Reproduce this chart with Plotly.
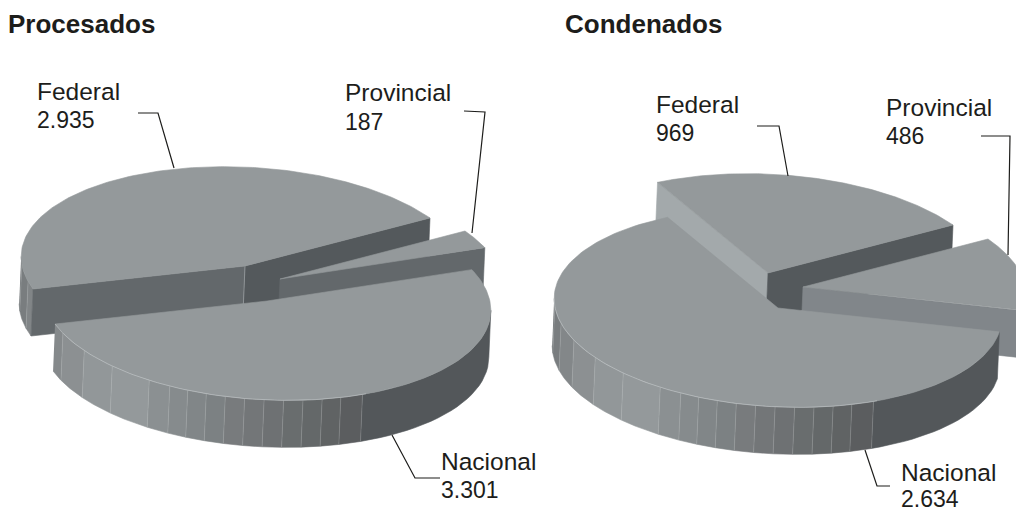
import numpy as np
import plotly.graph_objects as go

# ---- data ----
slices = ["Federal", "Provincial", "Nacional"]
procesados = [2935, 187, 3301]
condenados = [969, 486, 2634]
titles = ["Procesados", "Condenados"]

# ---- projection of the unit disc onto the page (tilted pie) ----
A = np.array([185.0, -48.0])
B = np.array([-126.0, -87.0])
DEPTH = np.array([-2.0, 47.0])

TOP = "#94999b"
INK = "#1d1d1b"
FONT = "Liberation Sans, Arial, sans-serif"

# rim shading: facet edges (deg) and brightness stops
RIM_BREAKS = [150, 160, 170, 181, 192, 204, 210, 215, 220, 225, 230, 235, 240,
              245, 250, 255, 261]
SHADE_ANG = [145, 160, 181, 197, 215, 235, 261]
SHADE_VAL = [0.45, 0.52, 0.59, 0.61, 0.54, 0.46, 0.36]
DARK = "#53575a"
VIS_LO, VIS_HI = 145.7, 325.7

fig = go.Figure()


def P(c, deg):
    t = np.radians(np.asarray(deg, dtype=float))
    return (c[0] + A[0] * np.cos(t) + B[0] * np.sin(t),
            c[1] + A[1] * np.cos(t) + B[1] * np.sin(t))


def poly(xs, ys, fill, line=None):
    fig.add_trace(go.Scatter(
        x=list(xs), y=list(ys), mode="lines", fill="toself", fillcolor=fill,
        line=dict(color=line or fill, width=0.6), hoverinfo="skip", showlegend=False))


def stroke(xs, ys, color, width):
    fig.add_trace(go.Scatter(
        x=list(xs), y=list(ys), mode="lines", line=dict(color=color, width=width),
        hoverinfo="skip", showlegend=False))


def shade(deg):
    if deg >= 261:
        return DARK
    v = np.interp(deg, SHADE_ANG, SHADE_VAL)
    return f"rgb({int(v*245)},{int(v*253)},{int(v*257)})"


def rim(c, a, b):
    lo, hi = max(a, VIS_LO), min(b, VIS_HI)
    if hi <= lo:
        return
    edges = [lo] + [e for e in RIM_BREAKS if lo < e < hi] + [hi]
    for e0, e1 in zip(edges[:-1], edges[1:]):
        th = np.linspace(e0, e1, 24)
        x, y = P(c, th)
        poly(np.r_[x, x[::-1] + DEPTH[0]], np.r_[y, y[::-1] + DEPTH[1]], shade((e0 + e1) / 2))
    for e in edges[1:-1]:
        x, y = P(c, e)
        stroke([x, x + DEPTH[0]], [y, y + DEPTH[1]], "rgba(200,205,207,0.3)", 0.7)


def face(c, deg, color):
    x, y = P(c, deg)
    poly([c[0], x, x + DEPTH[0], c[0] + DEPTH[0], c[0]],
         [c[1], y, y + DEPTH[1], c[1] + DEPTH[1], c[1]], color)


def top(c, a, b):
    th = np.linspace(a, b, 160)
    x, y = P(c, th)
    poly(np.r_[c[0], x, c[0]], np.r_[c[1], y, c[1]], TOP)


def arc_light(c, a, b):
    th = np.linspace(max(a, VIS_LO), min(b, 262), 80)
    x, y = P(c, th)
    stroke(x, y, "rgba(215,220,222,0.6)", 0.7)


def sweep(values):
    total = sum(values)
    return [v / total * 360 for v in values]


# ---- left pie ----
f, p, n = sweep(procesados)
cF, cP, cN = (245, 266), (280, 279), (267, 301)
rim(cF, 0, f)
face(cF, 0, "#54595c")
face(cF, f, "#63686b")
stroke([cF[0], cF[0] + DEPTH[0]], [cF[1], cF[1] + DEPTH[1]], "rgba(200,205,207,0.6)", 0.7)
top(cF, 0, f)
face(cP, -p, "#63686b")
top(cP, -p, 0)
rim(cN, f, f + n)
top(cN, f, f + n)
arc_light(cN, f, f + n)

# ---- right pie ----
f, p, n = sweep(condenados)
cF, cP, cN = (768, 273), (803, 287), (778, 308)
face(cF, f, "#a3a9ab")
face(cF, 0, "#54595c")
top(cF, 0, f)
face(cP, -p, "#81868a")
rim(cP, 360 - p, 360)
top(cP, -p, 0)
rim(cN, f, f + n)
top(cN, f, f + n)
arc_light(cN, f, f + n)

# ---- leader lines ----
leaders = [
    ([138, 158, 174], [113, 113, 168]),
    ([464, 485, 472], [111, 112, 233]),
    ([392, 415, 440], [435, 478, 478]),
    ([757, 779, 788], [126, 126, 176]),
    ([981, 1010, 1008], [136, 136, 255]),
    ([865, 877, 890], [450, 486, 486]),
]
for lx, ly in leaders:
    stroke(lx, ly, INK, 1.2)


def num(v):
    return f"{v:,}".replace(",", ".")


def label(x, y, text, size=24.5, bold=False):
    fig.add_annotation(x=x, y=y, text=f"<b>{text}</b>" if bold else text, showarrow=False,
                       xanchor="left", yanchor="middle", xref="x", yref="y",
                       xshift=-2, font=dict(family=FONT, size=size, color=INK))


label(8, 24, titles[0], 26, True)
label(565, 24, titles[1], 26, True)

pos_l = [(37, 91, 120), (345, 92, 122), (441, 461, 490)]
pos_r = [(656, 104, 133), (886, 107, 136), (901, 472, 499)]
for name, v, (x, y1, y2) in zip(slices, procesados, pos_l):
    label(x, y1, name)
    label(x, y2, num(v), 23)
for name, v, (x, y1, y2) in zip(slices, condenados, pos_r):
    label(x, y1, name)
    label(x, y2, num(v), 23)

fig.update_layout(
    width=1016, height=513, margin=dict(l=0, r=0, t=0, b=0),
    paper_bgcolor="white", plot_bgcolor="white", showlegend=False,
    xaxis=dict(range=[0, 1016], visible=False, fixedrange=True),
    yaxis=dict(range=[513, 0], visible=False, fixedrange=True),
)
fig.write_html("out.html", config={"displayModeBar": False},
               post_script="document.body.style.margin='0';document.body.style.overflow='hidden';")
